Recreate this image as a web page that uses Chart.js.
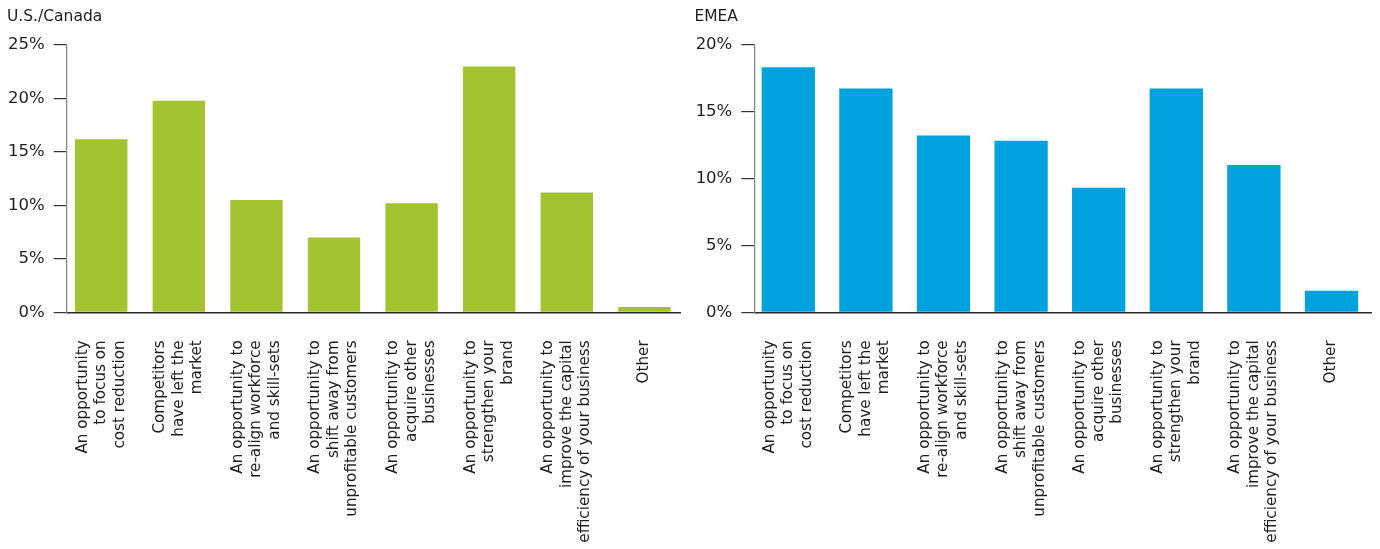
<!DOCTYPE html>
<html><head><meta charset="utf-8">
<script src="https://cdn.jsdelivr.net/npm/chart.js@4.4.1/dist/chart.umd.min.js"></script>
<style>
html,body{margin:0;padding:0;background:#fff;}
.box{position:absolute;top:0;width:690px;height:549px;}
#l{left:0}#r{left:690px}
</style></head><body>
<div class="box" id="l"><canvas id="c1"></canvas></div>
<div class="box" id="r"><canvas id="c2"></canvas></div>
<script>
const categories = [
  ["An opportunity", "to focus on", "cost reduction"],
  ["Competitors", "have left the", "market"],
  ["An opportunity to", "re-align workforce", "and skill-sets"],
  ["An opportunity to", "shift away from", "unprofitable customers"],
  ["An opportunity to", "acquire other", "businesses"],
  ["An opportunity to", "strengthen your", "brand"],
  ["An opportunity to", "improve the capital", "efficiency of your business"],
  ["Other"]
];
const usCanadaValues = [16.2, 19.8, 10.5, 7.0, 10.2, 23.0, 11.2, 0.5];
const emeaValues = [18.3, 16.7, 13.2, 12.8, 9.3, 16.7, 11.0, 1.6];
const usCanadaTicks = [0, 5, 10, 15, 20, 25];
const emeaTicks = [0, 5, 10, 15, 20];
const titles = ["U.S./Canada", "EMEA"];

const FONT = "'DejaVu Sans', sans-serif";
const TEXT = '#1f1f1f';

const centerMultiline = {
  id: 'centerMultiline',
  beforeDraw(chart) {
    const s = chart.scales.x;
    const items = s.getLabelItems();
    items.forEach((it, i) => {
      if (it._c) return;
      const n = Array.isArray(it.label) ? it.label.length : 1;
      const lh = it.font.lineHeight;
      const pixel = s.getPixelForTick(i);
      it.options.translation[0] = pixel - it.textOffset - (n - 1) * lh / 2;
      it._c = true;
    });
  }
};

function makeChart(id, title, values, ticks, color, cfg) {
  return new Chart(document.getElementById(id), {
    type: 'bar',
    data: {
      datasets: [{
        data: values.map((v, i) => ({x: i, y: v})),
        backgroundColor: color,
        borderWidth: 0,
        categoryPercentage: 1,
        barPercentage: cfg.barPct
      }]
    },
    plugins: [centerMultiline],
    options: {
      responsive: true,
      maintainAspectRatio: false,
      animation: false,
      layout: {padding: {left: cfg.padLeft, right: cfg.padRight, top: 0, bottom: 0}},
      plugins: {
        legend: {display: false},
        tooltip: {enabled: false},
        title: {
          display: true, text: title, align: 'start', color: TEXT,
          font: {family: FONT, size: 15.5, weight: 'normal', lineHeight: 1.2},
          padding: {top: 8, bottom: cfg.titleBottom}
        }
      },
      scales: {
        x: {
          type: 'linear', bounds: 'data', offset: false, min: cfg.xMin, max: cfg.xMax,
          afterBuildTicks: s => { s.ticks = categories.map((_, i) => ({value: i})); },
          afterFit: s => { s.height = 549 - 312.3; s.paddingLeft = 0; s.paddingRight = 0; },
          grid: {display: false, drawTicks: false, offset: false},
          border: {display: true, color: '#2b2b2b', width: 1.6},
          ticks: {
            autoSkip: false, minRotation: 90, maxRotation: 90, padding: 28, color: TEXT,
            font: {family: FONT, size: 15.2, lineHeight: 1.215},
            callback: (v, i) => categories[i]
          }
        },
        y: {
          min: ticks[0], max: ticks[ticks.length - 1],
          afterBuildTicks: s => { s.ticks = ticks.map(v => ({value: v})); },
          afterFit: s => { s.width = cfg.yWidth; s.paddingTop = 0; s.paddingBottom = 0; },
          grid: {drawOnChartArea: false, drawTicks: true, tickLength: 13, color: '#333', lineWidth: 1.2},
          border: {display: true, color: '#8a8a8a', width: 1.3},
          ticks: {
            padding: 9, color: TEXT,
            font: {family: FONT, size: 16.5},
            callback: v => v + '%'
          }
        }
      }
    }
  });
}

makeChart('c1', titles[0], usCanadaValues, usCanadaTicks, '#a3c330',
  {padLeft: 7, padRight: 9.3, yWidth: 59.7, titleBottom: 18.5, xMin: -0.445, xMax: 7.468, barPct: 0.675});
makeChart('c2', titles[1], emeaValues, emeaTicks, '#00a2dd',
  {padLeft: 4.4, padRight: 8.3, yWidth: 59.9, titleBottom: 17.8, xMin: -0.438, xMax: 7.518, barPct: 0.687});
</script>
</body></html>
